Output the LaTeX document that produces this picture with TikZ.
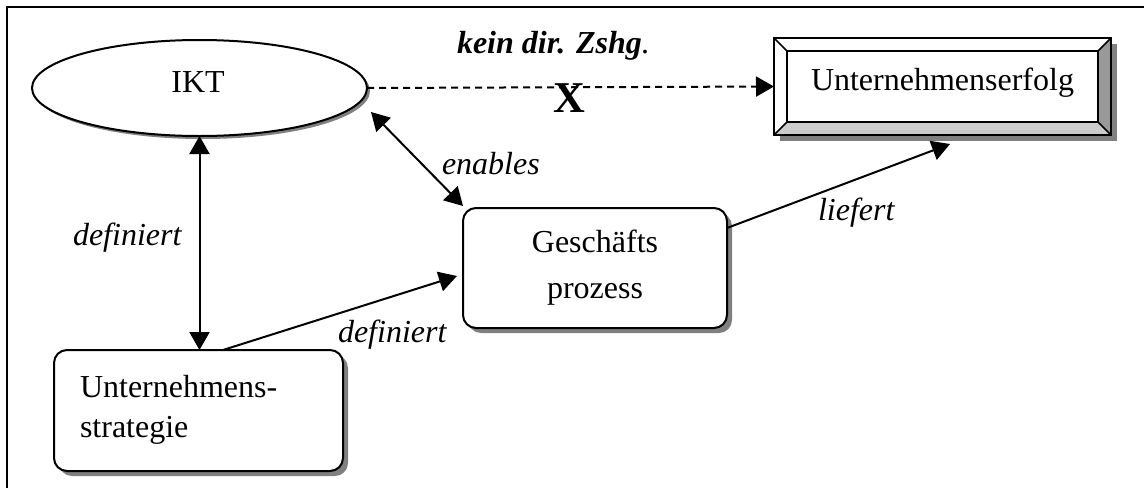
\documentclass[tikz,border=0pt]{standalone}
\usepackage{fontspec}
\setmainfont{Liberation Serif}
\usetikzlibrary{arrows.meta,calc,shapes.geometric}
\definecolor{shadowgray}{HTML}{808080}
\definecolor{bevelright}{HTML}{999999}
\definecolor{bevelbottom}{HTML}{CCCCCC}
\begin{document}
\begin{tikzpicture}[x=1pt,y=-1pt,
  txt/.style={font=\fontsize{32}{40}\selectfont, inner sep=0pt, outer sep=0pt},
  lbl/.style={font=\fontsize{32}{40}\selectfont\itshape, inner sep=0pt, outer sep=0pt, anchor=base west},
  tip/.tip={Triangle[length=18pt,width=20pt]},
  conn/.style={line width=2pt, -tip},
  biconn/.style={line width=2pt, tip-tip},
  dashconn/.style={line width=2pt, -tip, dash pattern=on 7pt off 5pt},
  rbox/.style={draw, line width=2pt, rounded corners=13pt, fill=white, inner sep=0pt, outer sep=0pt},
  rshadow/.style={fill=shadowgray, rounded corners=13pt, inner sep=0pt, outer sep=0pt},
  oval/.style={ellipse, draw, line width=2pt, fill=white, inner sep=0pt, outer sep=0pt,
    minimum width=335pt, minimum height=96pt},
]
\useasboundingbox (0,0) rectangle (1144,488);
% frame
\draw[line width=2pt] (7,488) -- (7,7) -- (1144,7);

% IKT
\node[oval, draw=none, fill=shadowgray] (ikt-sh) at (202.5,91) {};
\node[oval] (ikt) at (199.5,88) {};
\node[txt, anchor=base] (ikt-t) at (198,92) {IKT};

% Unternehmenserfolg (beveled frame)
\fill[shadowgray] (780,44) rectangle (1117,141);
\node[draw, line width=2pt, fill=white, inner sep=0pt, outer sep=0pt,
  minimum width=337pt, minimum height=97pt] (erfolg) at (942.5,86.5) {};
\coordinate (e-ine) at ($(erfolg.north east)+(-13,13)$);
\coordinate (e-ise) at ($(erfolg.south east)+(-13,-13)$);
\coordinate (e-isw) at ($(erfolg.south west)+(13,-13)$);
\coordinate (e-inw) at ($(erfolg.north west)+(13,13)$);
\fill[bevelright] (erfolg.north east) -- (erfolg.south east) -- (e-ise) -- (e-ine) -- cycle;
\fill[bevelbottom] (erfolg.south west) -- (erfolg.south east) -- (e-ise) -- (e-isw) -- cycle;
\draw[line width=2pt] (e-inw) rectangle (e-ise);
\draw[line width=1.5pt] (erfolg.north west) -- (e-inw) (erfolg.north east) -- (e-ine)
  (erfolg.south east) -- (e-ise) (erfolg.south west) -- (e-isw);
\draw[line width=2pt] (erfolg.north west) rectangle (erfolg.south east);
\node[txt, anchor=base] (erfolg-t) at (942.5,90) {Unternehmenserfolg};

% Geschaeftsprozess
\node[rshadow, minimum width=264pt, minimum height=120pt] (gp-sh) at (600,273) {};
\node[rbox, minimum width=264pt, minimum height=120pt] (gp) at (595,268) {};
\node[txt, anchor=base] (gp-t1) at (595,252) {Geschäfts};
\node[txt, anchor=base] (gp-t2) at (595,298) {prozess};

% Unternehmensstrategie
\node[rshadow, minimum width=289pt, minimum height=121pt] (us-sh) at (203.5,415.5) {};
\node[rbox, minimum width=289pt, minimum height=121pt] (us) at (198.5,410.5) {};
\node[txt, anchor=base west] (us-t1) at (80,397) {Unternehmens-};
\node[txt, anchor=base west] (us-t2) at (80,437) {strategie};

% connectors
\coordinate (ikt-tip) at (371,112);
\draw[biconn] (ikt.south) -- (ikt.south |- us.north);
\draw[dashconn] (ikt.east) -- (erfolg.west);
\draw[biconn] (ikt-tip) -- ($(gp.north west)+(0,-2)$);
\draw[conn] ($(gp.east)+(0,-40)$) -- ($(erfolg.south)+(7.5,9)$);
\draw[conn] ($(us.north)+(24.5,0)$) -- ($(gp.west)+(-6,8)$);

% labels
\node[lbl, font=\fontsize{32}{40}\selectfont\bfseries\itshape] (kein) at (457,53) {kein dir. Zshg\textmd{.}};
\node[txt, anchor=base, font=\fontsize{44}{50}\selectfont\bfseries] (xmark) at (569,112) {X};
\node[lbl] (enables) at (442,174) {enables};
\node[lbl] (def1) at (73,245) {definiert};
\node[lbl] (def2) at (338,342) {definiert};
\node[lbl] (liefert) at (818,220) {liefert};
\end{tikzpicture}
\end{document}
